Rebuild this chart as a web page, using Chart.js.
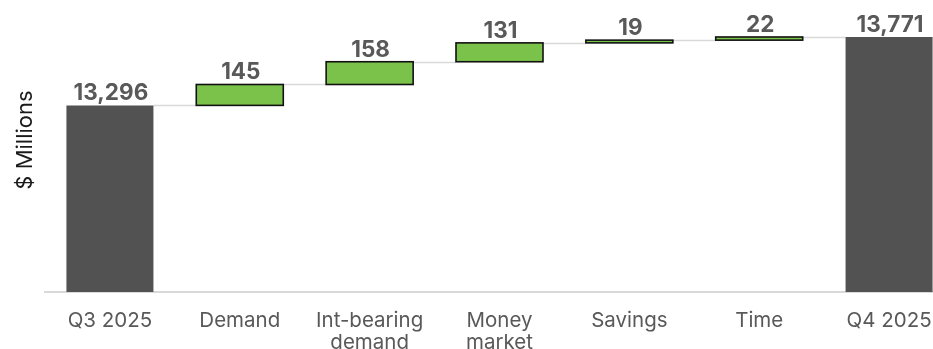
<!DOCTYPE html>
<html lang="en">
<head>
  <meta charset="UTF-8" />
  <title>Deposit change waterfall</title>
  <script src="https://cdn.jsdelivr.net/npm/chart.js"></script>
  <style>
    html, body {
      margin: 0;
      padding: 0;
      background: #fff;
      overflow: hidden;
    }
    #wrap {
      width: 960px;
      height: 349px;
      position: relative;
    }
  </style>
</head>
<body>
  <div id="wrap">
    <canvas id="waterfall"></canvas>
  </div>

  <script>
    // Quarter totals and the change from each deposit type ($ millions)
    const categories = ['Q3 2025', 'Demand', ['Int-bearing', 'demand'], ['Money', 'market'], 'Savings', 'Time', 'Q4 2025'];
    const startTotal = 13296;
    const changes = [145, 158, 131, 19, 22];
    const endTotal = 13771;
    const yMin = 12000;
    const yMax = 14000;

    // floating bars: [from, to]
    const ranges = [[yMin, startTotal]];
    let running = startTotal;
    changes.forEach(c => {
      ranges.push([running, running + c]);
      running += c;
    });
    ranges.push([yMin, endTotal]);

    const valueLabels = [startTotal, ...changes, endTotal].map(v => v.toLocaleString('en-US'));
    const isTotal = (i) => i === 0 || i === categories.length - 1;

    const grey = '#525252';
    const green = '#7bc24a';
    const textGrey = '#595959';

    // thin grey steps joining one bar's end to the next bar's start
    const connectors = {
      id: 'connectors',
      beforeDatasetsDraw(chart) {
        const { ctx } = chart;
        const y = chart.scales.y;
        const bars = chart.getDatasetMeta(0).data;
        ctx.save();
        ctx.strokeStyle = '#d9d9d9';
        ctx.lineWidth = 1.5;
        for (let i = 0; i < bars.length - 1; i++) {
          const py = Math.round(y.getPixelForValue(ranges[i][1])) + 0.5;
          ctx.beginPath();
          ctx.moveTo(bars[i].x + bars[i].width / 2, py);
          ctx.lineTo(bars[i + 1].x - bars[i + 1].width / 2, py);
          ctx.stroke();
        }
        ctx.restore();
      }
    };

    // outline around the change bars, centred on the edge so thin bars keep their fill
    const outlines = {
      id: 'outlines',
      afterDatasetsDraw(chart) {
        const { ctx } = chart;
        const bars = chart.getDatasetMeta(0).data;
        ctx.save();
        ctx.strokeStyle = '#111';
        ctx.lineWidth = 1.6;
        bars.forEach((bar, i) => {
          if (isTotal(i)) return;
          const top = Math.min(bar.y, bar.base);
          const h = Math.abs(bar.base - bar.y);
          ctx.strokeRect(bar.x - bar.width / 2, top, bar.width, h);
        });
        ctx.restore();
      }
    };

    const valueText = {
      id: 'valueText',
      afterDatasetsDraw(chart) {
        const { ctx } = chart;
        const bars = chart.getDatasetMeta(0).data;
        ctx.save();
        ctx.font = 'bold 22.5px Inter, "Noto Sans", sans-serif';
        ctx.fillStyle = textGrey;
        ctx.textAlign = 'center';
        ctx.textBaseline = 'alphabetic';
        bars.forEach((bar, i) => {
          ctx.fillText(valueLabels[i], bar.x + 1, Math.min(bar.y, bar.base) - 5);
        });
        ctx.restore();
      }
    };

    const axisTitle = {
      id: 'axisTitle',
      afterDraw(chart) {
        const { ctx } = chart;
        ctx.save();
        ctx.translate(25, 140);
        ctx.rotate(-Math.PI / 2);
        ctx.font = '22px Inter, "Noto Sans", sans-serif';
        ctx.fillStyle = '#1a1a1a';
        ctx.textAlign = 'center';
        ctx.textBaseline = 'middle';
        ctx.fillText('$ Millions', 0, 0);
        ctx.restore();
      }
    };

    new Chart(document.getElementById('waterfall'), {
      type: 'bar',
      data: {
        labels: categories,
        datasets: [{
          data: ranges,
          backgroundColor: ranges.map((r, i) => isTotal(i) ? grey : green),
          borderWidth: 0,
          barPercentage: 0.67,
          categoryPercentage: 1
        }]
      },
      plugins: [connectors, outlines, valueText, axisTitle],
      options: {
        responsive: true,
        maintainAspectRatio: false,
        animation: false,
        layout: { padding: { left: 45, right: 6, top: 4, bottom: 0 } },
        plugins: {
          legend: { display: false },
          tooltip: { enabled: false }
        },
        scales: {
          x: {
            grid: { display: false },
            border: { display: true, color: '#d9d9d9', width: 2 },
            ticks: {
              color: textGrey,
              padding: 10,
              maxRotation: 0,
              autoSkip: false,
              font: { family: 'Inter, "Noto Sans", sans-serif', size: 20.5, lineHeight: 1.08 }
            },
            afterFit(scale) { scale.height = 57; }
          },
          y: {
            display: false,
            min: yMin,
            max: yMax
          }
        }
      }
    });
  </script>
</body>
</html>
